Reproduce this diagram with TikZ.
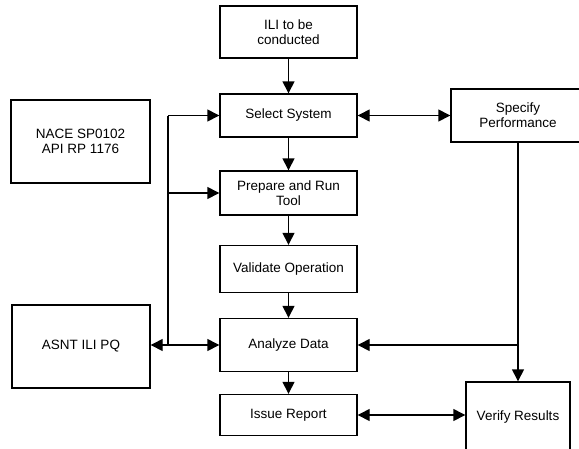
\documentclass[tikz,border=0pt]{standalone}
\usepackage{fontspec}
\setmainfont{Liberation Sans}
\usetikzlibrary{arrows.meta}
\begin{document}
\begin{tikzpicture}[>={Triangle[length=12pt,width=12pt]},x=1pt,y=-1pt,line width=1.4pt]
        \tikzstyle{every node}=[font=\fontsize{13.5}{15}\selectfont,align=center]
        \tikzstyle{box}=[draw,rectangle,inner sep=0pt,minimum width=137pt]
        \useasboundingbox(0,0)rectangle(579,448);
        % main column
        \node[box,minimum height=52pt] (ili) at (288.5,32) {ILI to be\\conducted};
        \node[box,minimum height=43pt] (sel) at (288.5,115.5) {Select System};
        \node[box,minimum height=44pt] (prep) at (288.5,193) {Prepare and Run\\Tool};
        \node[box,minimum height=47pt] (val) at (288.5,269) {Validate Operation};
        \node[box,minimum height=53pt] (ana) at (288.5,345) {Analyze Data};
        \node[box,minimum height=41pt] (iss) at (288.5,415) {Issue Report};
        % side boxes
        \node[box,minimum width=139pt,minimum height=83pt] (nace) at (80.5,141.5) {NACE SP0102\\API RP 1176};
        \node[box,minimum width=138pt,minimum height=83pt] (asnt) at (81,346.5) {ASNT ILI PQ};
        \node[box,minimum width=134pt,minimum height=53pt] (spec) at (518,115.5) {Specify\\Performance};
        \node[box,minimum width=104pt,minimum height=70pt] (ver) at (518,417) {Verify Results};
        % arrows
        \draw[->] (ili) -- (sel);
        \draw[->] (sel) -- (prep);
        \draw[->] (prep) -- (val);
        \draw[->] (val) -- (ana);
        \draw[->] (ana) -- (iss);
        \draw[<->] (sel.east) -- (sel.east -| spec.west);
        \draw[<->] (iss.east) -- (iss.east -| ver.west);
        \coordinate (bt) at (168,115.5);
        \coordinate (bb) at (168,345);
        \draw (bt) -- (bb);
        \draw[->] (bt) -- (sel.west);
        \draw[->] (bt |- prep.west) -- (prep.west);
        \draw[<->] (asnt.east |- ana.west) -- (ana.west);
        \coordinate (rj) at (spec.south |- ana.east);
        \draw[->] (spec.south) -- (ver.north);
        \draw[->] (rj) -- (ana.east);
\end{tikzpicture}
\end{document}
